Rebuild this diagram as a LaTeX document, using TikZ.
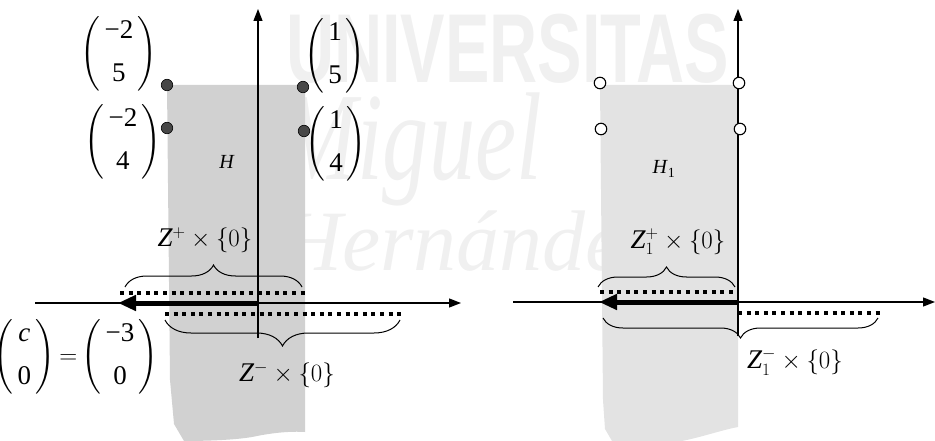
\documentclass[tikz,border=0pt]{standalone}
\usepackage{fontspec}
\setmainfont{Liberation Serif}
\newfontfamily\wmsans{Liberation Sans}
\usepackage{amsmath}
\usetikzlibrary{arrows.meta,decorations.pathreplacing}

\newcommand{\colv}[2]{$\left(\begin{array}{@{\,}c@{\,}}\text{#1}\\[11pt]\text{#2}\end{array}\right)$}

\tikzset{
  axis/.style={line width=1.3pt, -{Triangle[length=12pt,width=9pt]}},
  thickarr/.style={line width=5pt, -{Triangle[length=18pt,width=15pt]}},
  dotline/.style={line width=4pt, dash pattern=on 4pt off 4.6pt},
  brc/.style={decorate, decoration={brace, amplitude=#1}, line width=1pt},
  dotf/.style={circle, fill=black!72, draw=black, line width=0.6pt, minimum size=11.5pt, inner sep=0pt},
  doto/.style={circle, fill=white, draw=black, line width=1.1pt, minimum size=11.5pt, inner sep=0pt},
  lab/.style={font=\fontsize{27}{32}\selectfont, inner sep=0pt},
  hlab/.style={font=\fontsize{20}{24}\selectfont, inner sep=0pt},
  wm/.style={text=black!6, inner sep=0pt, anchor=base west},
  regL/.style={fill=black!18},
  regR/.style={fill=black!11}
}

\begin{document}
\begin{tikzpicture}[x=1pt,y=-1pt]
\useasboundingbox (0,0) rectangle (935,441);

% watermark
\node[wm] (wm1) at (286,83) {\scalebox{0.68}[1]{\fontsize{98}{98}\selectfont\wmsans\bfseries UNIVERSITAS}};
\node[wm] (wm2) at (280,180) {\scalebox{0.74}[1]{\fontsize{125}{125}\selectfont\itshape Miguel}};
\node[wm] (wm3) at (280,270) {\fontsize{86}{86}\selectfont\itshape Hernández};

% shaded regions
\fill[regL] (167,85) -- (305,85) -- (305,432) .. controls (290,431) and (272,433) .. (257,436)
  .. controls (240,440) and (205,441) .. (184,441) -- (174,424) -- (170,380) -- cycle;
\fill[regR] (600,85) -- (738,85) -- (738,427) .. controls (722,430) and (702,437) .. (682,441)
  -- (612,441) -- (605,429) -- (603,400) -- cycle;

% ---------- left diagram ----------
\coordinate (Lo) at (258,303);
\coordinate (Lxl) at (35,303);
\coordinate (Lxr) at (461,303);
\coordinate (Lyb) at (258,338);
\coordinate (Lyt) at (258,9);
\coordinate (Lt) at (118,303);
\draw[axis] (Lxl) -- (Lxr);
\draw[axis] (Lyb) -- (Lyt);

\coordinate (Lda) at (120,293);
\coordinate (Ldb) at (306,293);
\coordinate (Lea) at (165,314);
\coordinate (Leb) at (403,314);
\draw[dotline] (Lda) -- (Ldb);
\draw[dotline] (Lea) -- (Leb);
\draw[thickarr] (Lo) -- (Lt);

\coordinate (Lba) at (125,287);
\coordinate (Lbb) at (302,287);
\coordinate (Lca) at (400,320);
\coordinate (Lcb) at (165,320);
\draw[brc=22pt] (Lba) -- (Lbb);
\draw[brc=26pt] (Lca) -- (Lcb);

\node[dotf] (p1) at (167,85) {};
\node[dotf] (p2) at (167,128) {};
\node[dotf] (p3) at (303,87) {};
\node[dotf] (p4) at (304,131) {};

\node[lab] (m1) at (119,54) {\colv{−2}{5}};
\node[lab] (m2) at (123,142) {\colv{−2}{4}};
\node[lab] (m3) at (335,56) {\colv{1}{5}};
\node[lab] (m4) at (336,144) {\colv{1}{4}};
\node[lab] (mc) at (76,357) {\colv{\textit{c}}{0}\,$=$\,\colv{−3}{0}};

\node[hlab] (H) at (227,162) {\textit{H}};
\node[lab] (zp) at (205,240) {$\mathit{Z}^{+}\times\{0\}$};
\node[lab] (zm) at (287,375) {$\mathit{Z}^{-}\times\{0\}$};

% ---------- right diagram ----------
\coordinate (Ro) at (738,302);
\coordinate (Rxl) at (513,302);
\coordinate (Rxr) at (935,302);
\coordinate (Ryb) at (738,336);
\coordinate (Ryt) at (738,9);
\coordinate (Rt) at (599,302);
\draw[axis] (Rxl) -- (Rxr);
\draw[axis] (Ryb) -- (Ryt);

\coordinate (Rda) at (600,292);
\coordinate (Rdb) at (736,292);
\coordinate (Rea) at (738,313);
\coordinate (Reb) at (883,313);
\draw[dotline] (Rda) -- (Rdb);
\draw[dotline] (Rea) -- (Reb);
\draw[thickarr] (Ro) -- (Rt);

\coordinate (Rba) at (598,287);
\coordinate (Rbb) at (735,287);
\coordinate (Rca) at (878,318);
\coordinate (Rcb) at (603,318);
\draw[brc=20pt] (Rba) -- (Rbb);
\draw[brc=20pt] (Rca) -- (Rcb);

\node[doto] (q1) at (600,83) {};
\node[doto] (q2) at (601,129) {};
\node[doto] (q3) at (739,83) {};
\node[doto] (q4) at (740,129) {};

\node[hlab] (H1) at (664,169) {\textit{H}$_{\text{1}}$};
\node[lab] (zp1) at (678,242) {$\mathit{Z}_{1}^{+}\times\{0\}$};
\node[lab] (zm1) at (795,362) {$\mathit{Z}_{1}^{-}\times\{0\}$};
\end{tikzpicture}
\end{document}
